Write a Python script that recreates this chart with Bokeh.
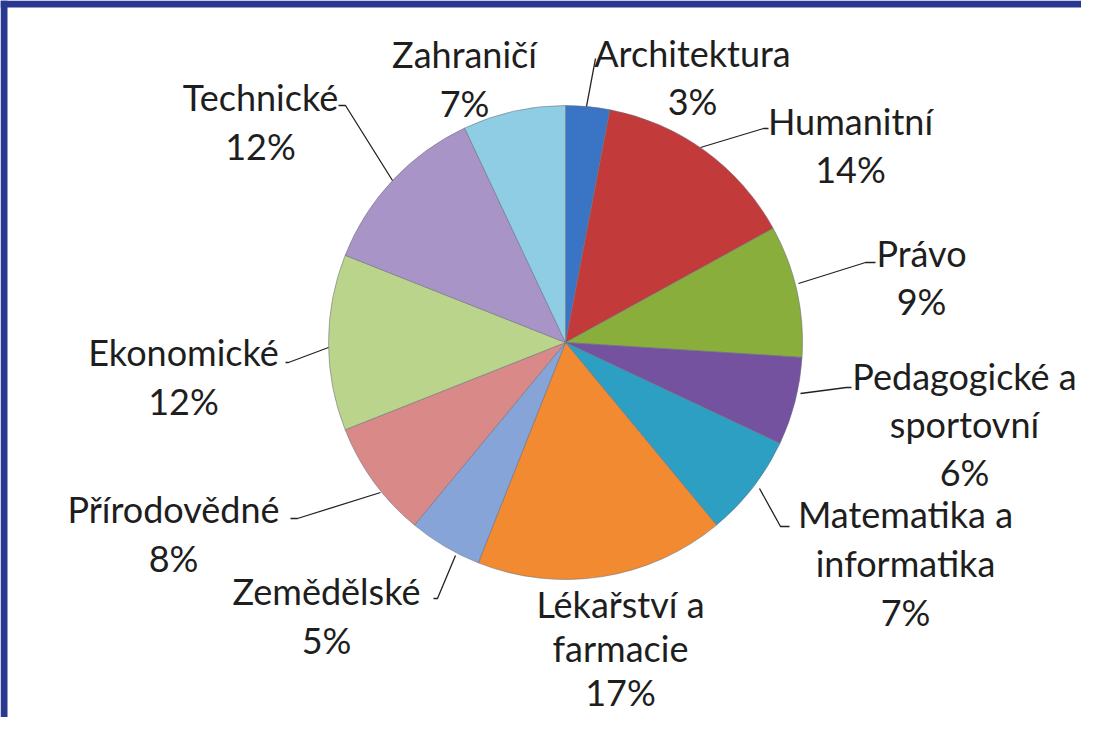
import numpy as np
from bokeh.plotting import figure
from bokeh.models import Range1d, ColumnDataSource
from bokeh.core.properties import value
from bokeh.embed import file_html
from bokeh.resources import INLINE

# ---- data ----
categories = ["Architektura", "Humanitní", "Právo", "Pedagogické a sportovní",
              "Matematika a informatika", "Lékařství a farmacie", "Zemědělské",
              "Přírodovědné", "Ekonomické", "Technické", "Zahraničí"]
shares = [3, 14, 9, 6, 7, 17, 5, 8, 12, 12, 7]
label_lines = [["Architektura"], ["Humanitní"], ["Právo"], ["Pedagogické a", "sportovní"],
               ["Matematika a", "informatika"], ["Lékařství a", "farmacie"], ["Zemědělské"],
               ["Přírodovědné"], ["Ekonomické"], ["Technické"], ["Zahraničí"]]

# ---- styles / layout ----
colors = ["#3a74c4", "#c23b3a", "#8aae3c", "#7552a0", "#2d9fc2", "#f18a30",
          "#86a4d8", "#d98a88", "#bad48c", "#a994c8", "#8fcde4"]
BLUE = "#2a3990"
W, H = 1081, 717
CX, CY, R = 565, -342, 237
FONT = "Lato"
FS = "36px"
# label anchor (center x, y of first line) in picture pixels, and line height
label_pos = [(692, 52, 48), (850, 120, 48), (921, 252, 48), (964, 375, 48),
             (905, 513, 49), (620, 603, 44), (326, 590, 49), (173, 508, 49),
             (183, 351, 49), (260, 96, 49), (464, 53, 49)]
leaders = [
    [(595, 58), (586, 106)],
    [(768, 128), (763, 128), (700, 147)],
    [(875, 262), (865, 262), (798, 283)],
    [(851, 387), (846, 387), (800, 393)],
    [(789, 526), (780, 526), (759, 488)],
    None,
    [(433, 598), (437, 598), (455, 555)],
    [(290, 518), (297, 518), (380, 492)],
    [(285, 362), (288, 362), (328, 347)],
    [(338, 105), (345, 105), (392, 180)],
    None,
]

p = figure(width=W, height=H, output_backend="svg", toolbar_location=None,
           x_range=Range1d(0, W), y_range=Range1d(-H, 0),
           min_border=0, min_border_left=0, min_border_top=0,
           min_border_right=0, min_border_bottom=0,
           border_fill_color="white", background_fill_color="white")
p.axis.visible = False
p.grid.visible = False
p.outline_line_color = None

# frame strips (left and top)
p.quad(left=[0, 0], right=[7, W], top=[0, 0], bottom=[-H, -7],
       fill_color=BLUE, line_color=None)

vals = np.array(shares, dtype=float)
frac = vals / vals.sum()
cum = np.concatenate([[0], np.cumsum(frac)])
start = np.pi / 2 - cum[1:] * 2 * np.pi
end = np.pi / 2 - cum[:-1] * 2 * np.pi

src = ColumnDataSource(dict(start=start, end=end, color=colors, cat=categories))
p.wedge(x=CX, y=CY, radius=R, start_angle="start", end_angle="end", source=src,
        fill_color="color", line_color="#6b6f80", line_alpha=0.55, line_width=1)

# leader lines
xs, ys = [], []
for ld in leaders:
    if ld is None:
        continue
    xs.append([pt[0] for pt in ld])
    ys.append([-pt[1] for pt in ld])
p.multi_line(xs=xs, ys=ys, line_color="#222222", line_width=1.3)

# labels
tx, ty, tt = [], [], []
for lines, share, (lx, ly, lh) in zip(label_lines, shares, label_pos):
    allines = lines + [f"{share}%"]
    for i, t in enumerate(allines):
        tx.append(lx)
        ty.append(-(ly + i * lh))
        tt.append(t)
p.text(x=tx, y=ty, text=tt, text_align="center", text_baseline="middle",
       text_font=value(FONT), text_font_size=FS, text_color="#1e1e1e")

open("out.html", "w").write(file_html(p, INLINE))
